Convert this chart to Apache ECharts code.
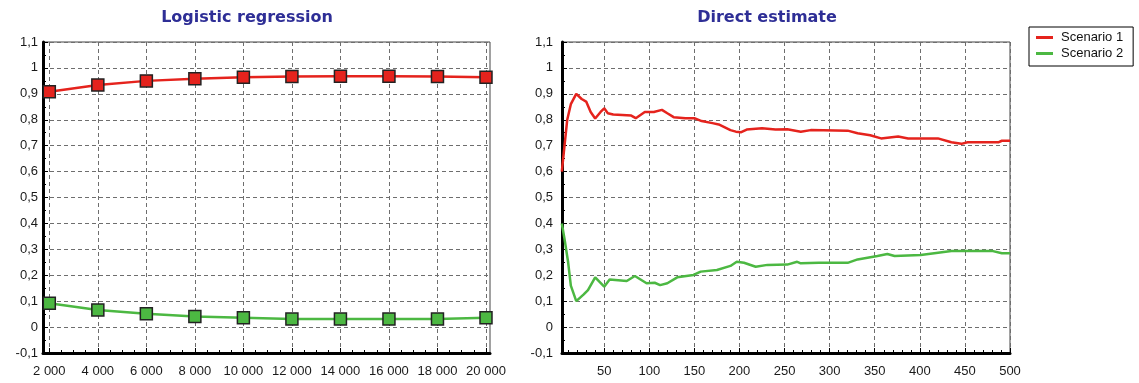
<!DOCTYPE html>
<html>
<head>
<meta charset="utf-8">
<script src="https://cdn.jsdelivr.net/npm/echarts@6/dist/echarts.min.js"></script>
<style>
  html, body { margin: 0; padding: 0; background: #fff; }
  #chart { width: 1139px; height: 383px; }
</style>
</head>
<body>
<div id="chart"></div>
<script>
// Sample sizes for the logistic-regression panel
const sampleSizes = [2000, 4000, 6000, 8000, 10000, 12000, 14000, 16000, 18000, 20000];
const logisticS1 = [0.908, 0.934, 0.950, 0.958, 0.964, 0.967, 0.968, 0.968, 0.967, 0.964];
const logisticS2 = [0.092, 0.066, 0.051, 0.041, 0.036, 0.031, 0.031, 0.031, 0.031, 0.036];

// Direct estimate: [n, estimate] pairs
const directS1 = [
  [3, 0.60], [6, 0.70], [9, 0.80], [13, 0.86], [19, 0.90], [25, 0.88], [30, 0.87],
  [35, 0.83], [40, 0.805], [46, 0.83], [50, 0.844], [54, 0.825], [60, 0.82],
  [70, 0.818], [80, 0.816], [85, 0.806], [95, 0.83], [105, 0.83], [114, 0.838],
  [120, 0.825], [127, 0.81], [140, 0.806], [150, 0.806], [158, 0.795], [170, 0.787],
  [177, 0.782], [190, 0.76], [196, 0.754], [202, 0.752], [208, 0.762], [225, 0.767],
  [240, 0.762], [253, 0.763], [268, 0.754], [279, 0.76], [320, 0.758], [331, 0.748],
  [345, 0.74], [357, 0.728], [376, 0.735], [387, 0.728], [420, 0.728], [435, 0.713],
  [446, 0.707], [453, 0.713], [487, 0.713], [491, 0.719], [500, 0.719]
];
const directS2 = [
  [3, 0.40], [6, 0.34], [10, 0.25], [13, 0.16], [19, 0.10], [27, 0.125], [32, 0.143],
  [40, 0.192], [42, 0.197], [50, 0.156], [56, 0.184], [75, 0.178], [84, 0.197],
  [97, 0.169], [106, 0.171], [112, 0.162], [120, 0.169], [131, 0.192], [149, 0.201],
  [157, 0.214], [175, 0.22], [190, 0.236], [197, 0.252], [205, 0.248], [218, 0.233],
  [231, 0.24], [253, 0.241], [264, 0.252], [268, 0.246], [288, 0.248], [320, 0.248],
  [331, 0.261], [353, 0.274], [364, 0.282], [372, 0.274], [401, 0.278], [416, 0.285],
  [435, 0.294], [480, 0.294], [491, 0.285], [500, 0.285]
];

// Tick labels
const leftTicks = [2000, 4000, 6000, 8000, 10000, 12000, 14000, 16000, 18000, 20000];
const rightTicks = [50, 100, 150, 200, 250, 300, 350, 400, 450, 500];
const seriesNames = ['Scenario 1', 'Scenario 2'];
const titles = ['Logistic regression', 'Direct estimate'];

const RED = '#e5231d';
const GREEN = '#4cb842';
const LABEL_FONT = 'Liberation Sans, Arial, sans-serif';

const leftMinor = [];
for (let v = 2000; v <= 20000; v += 500) if (v % 2000 !== 0) leftMinor.push(v);
const rightMinor = [];
for (let v = 10; v <= 500; v += 10) if (v % 50 !== 0) rightMinor.push(v);

const gridBox = [
  { left: 43, top: 42, width: 447, height: 311 },
  { left: 562, top: 42, width: 448, height: 311 }
];

function fmtThousands(v) {
  return String(v).replace(/\B(?=(\d{3})+(?!\d))/g, ' ');
}
function fmtDecimal(v) {
  const r = Math.round(v * 10) / 10;
  return String(r).replace('.', ',');
}

function mainX(gridIndex, min, max, ticks, fmt) {
  return {
    type: 'value', gridIndex, min, max, position: 'bottom',
    axisLine: { show: true, onZero: false, lineStyle: { color: '#000', width: 3 } },
    axisTick: { show: true, inside: true, length: 5, customValues: ticks, lineStyle: { color: '#000' } },
    axisLabel: { customValues: ticks, formatter: fmt, color: '#1a1a1a', fontSize: 13, fontFamily: LABEL_FONT, margin: 12 },
    splitLine: { show: true, lineStyle: { color: '#6e6e6e', type: [4, 3], width: 1 } }
  };
}
function minorX(gridIndex, min, max, ticks) {
  return {
    type: 'value', gridIndex, min, max, position: 'bottom',
    axisLine: { show: false, onZero: false },
    axisTick: { show: true, inside: true, length: 3, customValues: ticks, lineStyle: { color: '#000' } },
    axisLabel: { show: false },
    splitLine: { show: false }
  };
}
function yAxis(gridIndex, margin) {
  return {
    type: 'value', gridIndex, min: -0.1, max: 1.1, interval: 0.1,
    axisLine: { show: true, onZero: false, lineStyle: { color: '#000', width: 3 } },
    axisTick: { show: true, inside: true, length: 5, lineStyle: { color: '#000' } },
    minorTick: { show: true, splitNumber: 2, length: 3, lineStyle: { color: '#000' } },
    axisLabel: { formatter: fmtDecimal, color: '#1a1a1a', fontSize: 13, fontFamily: LABEL_FONT, margin },
    splitLine: { show: true, lineStyle: { color: '#6e6e6e', type: [4, 3], width: 1 } }
  };
}

const chart = echarts.init(document.getElementById('chart'), null, { renderer: 'canvas' });

chart.setOption({
  backgroundColor: '#fff',
  animation: false,
  grid: gridBox.map(g => Object.assign({ show: true, borderColor: '#444', borderWidth: 1, backgroundColor: '#fff' }, g)),
  xAxis: [
    mainX(0, 1740, 20165, leftTicks, fmtThousands),
    minorX(0, 1740, 20165, leftMinor),
    mainX(1, 3.2, 500, rightTicks, v => String(v)),
    minorX(1, 3.2, 500, rightMinor)
  ],
  yAxis: [yAxis(0, 5), yAxis(1, 9)],
  legend: {
    orient: 'vertical', left: 1029, top: 27,
    padding: [4, 10, 6, 7], itemGap: 3,
    itemWidth: 17, itemHeight: 3,
    borderColor: '#000', borderWidth: 1, backgroundColor: '#fff',
    textStyle: { color: '#111', fontSize: 13, fontFamily: LABEL_FONT, padding: [0, 0, 0, 3] },
    data: [
      { name: seriesNames[0], icon: 'rect', itemStyle: { color: RED, borderWidth: 0 } },
      { name: seriesNames[1], icon: 'rect', itemStyle: { color: GREEN, borderWidth: 0 } }
    ]
  },
  graphic: titles.map((t, i) => ({
    type: 'text',
    x: [247, 767][i], y: 18,
    style: {
      text: t, textAlign: 'center', textVerticalAlign: 'middle',
      font: 'bold 16px "DejaVu Sans", sans-serif', fill: '#2e2e96'
    }
  })),
  series: [
    {
      name: seriesNames[0], type: 'line', xAxisIndex: 0, yAxisIndex: 0,
      data: sampleSizes.map((x, i) => [x, logisticS1[i]]),
      symbol: 'rect', symbolSize: 12,
      itemStyle: { color: RED, borderColor: '#222', borderWidth: 1.5 },
      lineStyle: { color: RED, width: 2.5 }
    },
    {
      name: seriesNames[1], type: 'line', xAxisIndex: 0, yAxisIndex: 0,
      data: sampleSizes.map((x, i) => [x, logisticS2[i]]),
      symbol: 'rect', symbolSize: 12,
      itemStyle: { color: GREEN, borderColor: '#222', borderWidth: 1.5 },
      lineStyle: { color: GREEN, width: 2.5 }
    },
    {
      name: seriesNames[0], type: 'line', xAxisIndex: 2, yAxisIndex: 1,
      data: directS1, showSymbol: false, symbol: 'none',
      itemStyle: { color: RED },
      lineStyle: { color: RED, width: 2.5 }
    },
    {
      name: seriesNames[1], type: 'line', xAxisIndex: 2, yAxisIndex: 1,
      data: directS2, showSymbol: false, symbol: 'none',
      itemStyle: { color: GREEN },
      lineStyle: { color: GREEN, width: 2.5 }
    }
  ]
});
</script>
</body>
</html>
